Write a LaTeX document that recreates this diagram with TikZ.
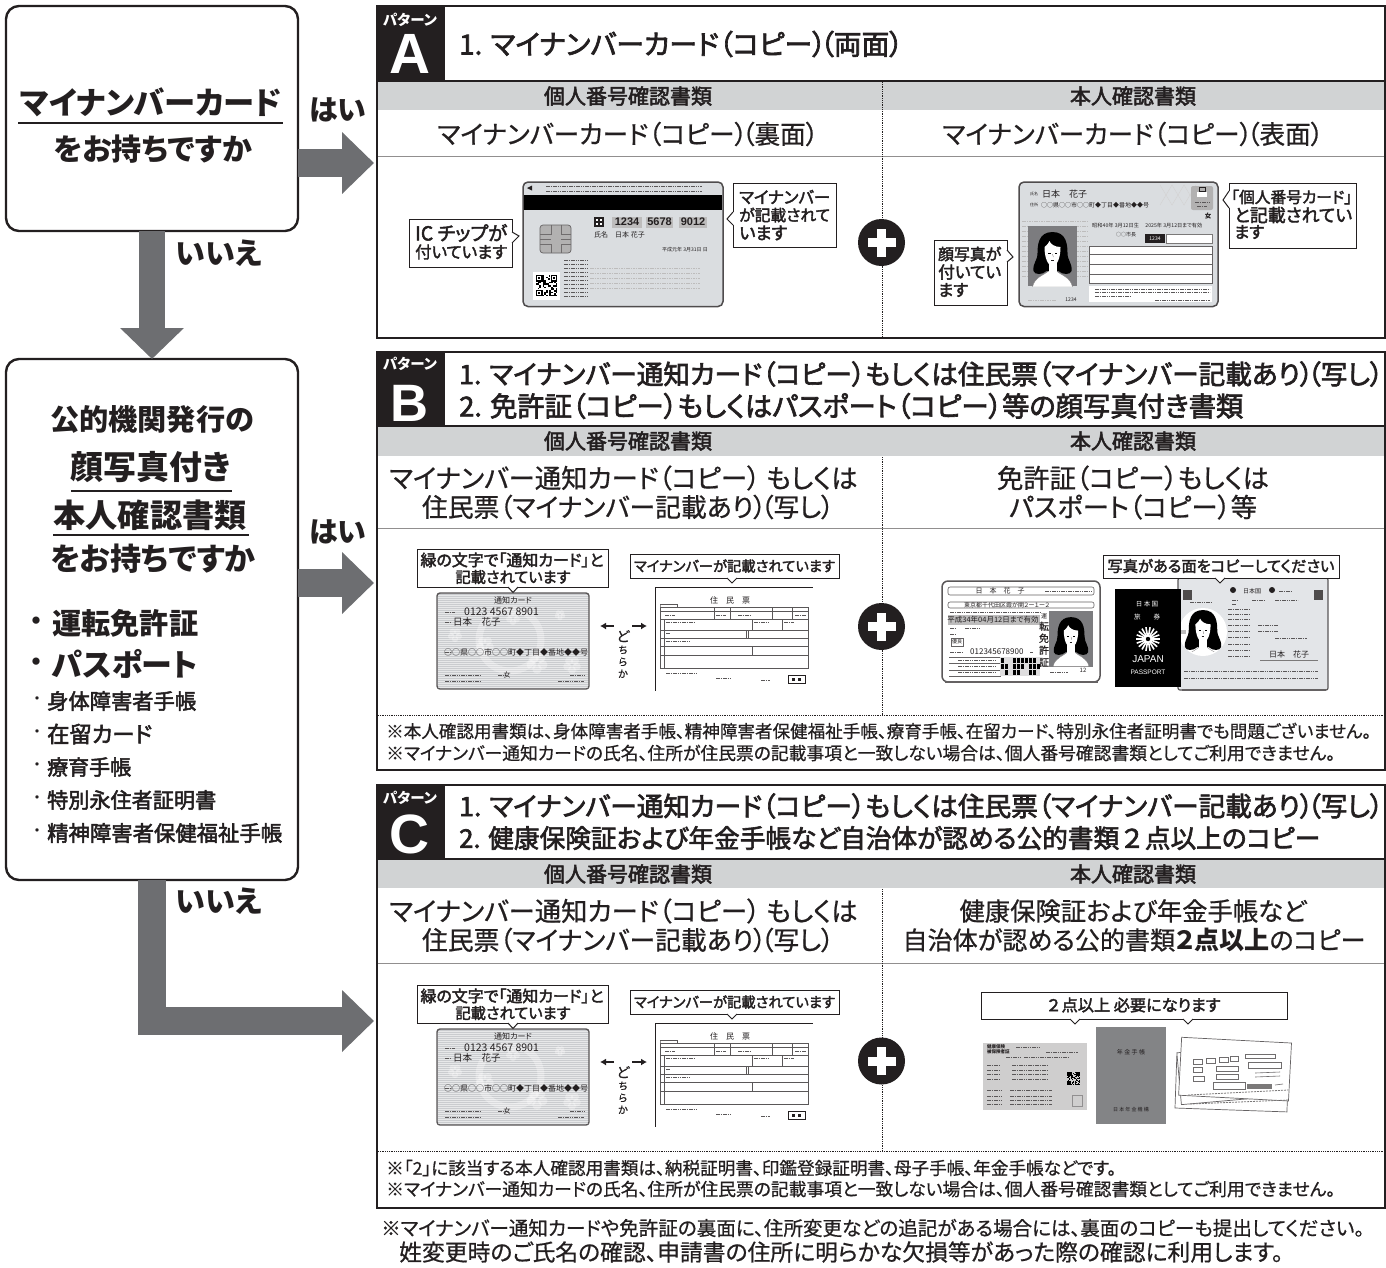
\documentclass[tikz,border=0pt]{standalone}
\usepackage{fontspec}
\usepackage{graphicx}
\usetikzlibrary{arrows.meta}
\setmainfont{Noto Sans CJK JP}[RawFeature=+palt,UprightFeatures={FakeBold=0.7}]
\newfontfamily\jpm{Noto Sans CJK JP}[RawFeature=+palt,FakeBold=2.4]
\newfontfamily\jpr{Noto Sans CJK JP}[FakeBold=2.4]
\newfontfamily\jpt{Noto Sans CJK JP}[RawFeature=+palt]
\newfontfamily\lat{Liberation Sans}
\definecolor{ink}{HTML}{231F20}
\definecolor{arrowgray}{HTML}{6D6E71}
\definecolor{band}{HTML}{D1D3D4}
\definecolor{cardg}{HTML}{DADDE0}
\newcounter{tn}
\newcommand\brk{\kern-.22em}
% text fitted to a width
\newcommand\txw[4][]{\stepcounter{tn}\node[txt,#1] (t\arabic{tn}) at (#2) {\resizebox{#3pt}{!}{\fontsize{20}{24}\selectfont #4}};}
% text at a size
\newcommand\txs[4][]{\stepcounter{tn}\node[txt,#1] (t\arabic{tn}) at (#2) {\fontsize{#3}{#3}\selectfont\jpt #4};}
% callout box x1 y1 x2 y2
\newcommand\callbox[5]{\node[callb,anchor=north west,minimum width=#4pt-#2pt,minimum height=#5pt-#3pt] (#1) at (#2,#3) {};}
\newcommand\ptr[3]{\draw[white,line width=1.8pt] (#1)--(#3);\draw[ink,line width=1pt,fill=white] (#1)--(#2)--(#3);}
\newcommand\dashes[3]{\draw[ink!75,line width=.8pt,dash pattern=on 1.6pt off .7pt] (#1,#3)--(#2,#3);}
\newcommand\faded[3]{\draw[ink!30,line width=.6pt,dash pattern=on 1.6pt off .8pt] (#1,#3)--(#2,#3);}
\newcommand\plusmark[2]{\stepcounter{tn}\node[circle,fill=ink,minimum size=47pt,inner sep=0pt] (p\arabic{tn}) at (#1,#2) {};
 \fill[white] (#1-14,#2-4.5) rectangle (#1+14,#2+4.5); \fill[white] (#1-4.5,#2-14) rectangle (#1+4.5,#2+14);}
\newcommand\petals[3]{\foreach \a in {18,90,...,306}{\fill[white,opacity=.3] (#1,#2)++(\a:#3) circle (#3*.8);}}
\newcommand\facepic[4][white]{\begin{scope}[shift={(#2,#3)},scale=#4]
 \fill[white,draw=ink!60,line width=.3pt] (-20,34) .. controls (-18,24) and (-8,22) .. (-4,18) -- (4,18) .. controls (8,22) and (18,24) .. (20,34) -- cycle;
 \fill[black] (0,-21) .. controls (-14,-21) and (-15,-8) .. (-15,0) .. controls (-15,8) and (-20,10) .. (-19,18) .. controls (-18,22) and (-10,22) .. (-6,18) -- (6,18) .. controls (10,22) and (18,22) .. (19,18) .. controls (20,10) and (15,8) .. (15,0) .. controls (15,-8) and (14,-21) .. (0,-21) -- cycle;
 \fill[white] (-4,10) rectangle (4,20);
 \fill[white] (-8,-6) .. controls (-8,6) and (-4,13) .. (0,13) .. controls (4,13) and (8,6) .. (8,-6) .. controls (2,-6) and (-2,-9) .. (-3,-12) .. controls (-5,-8) and (-7,-7) .. (-8,-6) -- cycle;
 \fill[black] (-4.5,-.5) rectangle (-2,.5); \fill[black] (2,-.5) rectangle (4.5,.5);
 \draw[ink,line width=.4pt] (-1.5,7)--(1.5,7); \draw[ink!70,line width=.3pt] (0,1)--(.8,4);
\end{scope}}
\newcommand\qrcode[3]{\begin{scope}[shift={(#1,#2)},scale=#3]
 \pgfmathsetseed{11}
 \foreach \i in {0,...,12}{\foreach \j in {0,...,12}{\pgfmathparse{rnd>0.5?1:0}\ifnum\pgfmathresult=1 \fill[black] (\i,\j) rectangle ++(1,1);\fi}}
 \foreach \a/\b in {0/0,9/0,0/9}{\fill[white] (\a-.3,\b-.3) rectangle ++(4.6,4.6);\fill[black] (\a,\b) rectangle ++(4,4);\fill[white] (\a+.8,\b+.8) rectangle ++(2.4,2.4);\fill[black] (\a+1.3,\b+1.3) rectangle ++(1.4,1.4);}
\end{scope}}
% notification card + resident record drawn at a vertical offset
\newcommand\choicegroup[1]{\begin{scope}[shift={(0,#1)}]
 \fill[cardg!82!gray,draw=ink!75,line width=1.4pt,rounded corners=3pt] (437,593) rectangle (589,689);
 \begin{scope}
  \clip (438,594) rectangle (588,688);
  \foreach \y in {595,597,...,688}{\draw[white,line width=.5pt,opacity=.55] (437,\y)--(589,\y);}
  \draw[white,opacity=.3,line width=7pt] (510,640) circle (31);
  \petals{485}{645}{5}\petals{537}{663}{6}\petals{513}{618}{4}\petals{572}{665}{5}\petals{455}{635}{4}\petals{560}{615}{3}
 \end{scope}
 \txs{513,600}{8}{通知カード}
 \txs[anchor=west]{464,612}{10.5}{0123  4567  8901}
 \txs[anchor=west]{453,622}{9.5}{日本　花子}
 \txs[anchor=west]{444,652}{8}{○○県○○市○○町◆丁目◆番地◆◆号}
 \dashes{445}{455}{612}\dashes{445}{451}{622}\dashes{445}{451}{652}
 \dashes{445}{480}{675}\dashes{445}{480}{681}\dashes{498}{505}{675}\dashes{570}{584}{675}\dashes{558}{584}{681}
 \txs{507,675}{7}{女}
 \draw[ink,line width=.9pt,fill=none] (655,587)--(813,587); \draw[ink,line width=.9pt] (655,587)--(655,691);
 \txs{730,600}{8}{住　民　票}
 \draw[ink!75,line width=.5pt] (660,604.5)--(677,604.5)--(677,607);
 \draw[ink!75,line width=.5pt] (660,604.5) rectangle (660,607);
 \draw[ink!75,line width=.5pt] (660,607) rectangle (808,668);
 \foreach \y in {611,619,630,638,646,655}{\draw[ink!75,line width=.5pt] (660,\y)--(808,\y);}
 \draw[ink!75,line width=.5pt] (714,607)--(714,619) (730,607)--(730,619) (772,607)--(772,619) (792,607)--(792,619) (664,619)--(664,668) (752,619)--(752,630) (782,619)--(782,630) (746,630)--(746,638) (748,630)--(748,638) (752,646)--(752,655);
 \dashes{665}{675}{615}\dashes{716}{726}{615}\dashes{738}{750}{615}\dashes{795}{806}{615}\dashes{666}{695}{622}\dashes{754}{770}{622}\dashes{784}{794}{622}\dashes{666}{670}{633}\dashes{666}{690}{641}
 \dashes{666}{697}{673}\dashes{716}{730}{678}\dashes{761}{770}{680}
 \draw[ink,line width=.6pt] (788,675) rectangle (805,683);
 \fill[ink] (791.5,677.5) rectangle (794.5,680.5);\fill[ink] (798,677.5) rectangle (801,680.5);
 \draw[-{Latex[length=6pt,width=7pt]},ink,line width=1.2pt] (614,626)--(600,626);
 \draw[-{Latex[length=6pt,width=7pt]},ink,line width=1.2pt] (632,626)--(647,626);
 \stepcounter{tn}\node[txt,align=center] (t\arabic{tn}) at (623,654) {\fontsize{14}{12.6}\selectfont ど\\ち\\ら\\か};
 \callbox{cg#1}{417}{549}{608}{587}
 \ptr{508,587}{513,592.5}{518,587}
 \txw{512,560}{183}{\jpm 緑の文字で「通知カード」と}
 \txw{513,577}{115}{\jpm 記載されています}
 \callbox{cj#1}{630}{554}{839}{578}
 \ptr{727,578}{732,583}{737,578}
 \txw{734.5,566}{201}{\jpm マイナンバーが記載されています}
\end{scope}}
\tikzset{
 txt/.style={inner sep=0pt,text=ink},
 bigbox/.style={draw=ink,line width=2.4pt,fill=white,rounded corners=13pt,anchor=north west,outer sep=0pt},
 panelbox/.style={draw=ink,line width=2.6pt,anchor=north west,fill=white,outer sep=0pt},
 callb/.style={draw=ink,line width=1pt,fill=white,inner sep=0pt,outer sep=0pt},
 bigarrow/.style={draw=arrowgray,line width=28pt,-{Triangle[length=32pt,width=60pt]},shorten >=3pt},
 downarrow/.style={draw=arrowgray,line width=26pt,-{Triangle[length=31pt,width=62pt]}},
 rowline/.style={draw=ink!50,line width=.7pt},
 divider/.style={draw=ink,line width=.8pt,densely dotted}
}
\begin{document}
\begin{tikzpicture}[x=1pt,y=-1pt]
\useasboundingbox (0,0) rectangle (1386,1267);
% panels
\node[panelbox,minimum width=1008pt,minimum height=332pt] (pa) at (377,6) {};
\node[panelbox,minimum width=1008pt,minimum height=418pt] (pb) at (377,352) {};
\node[panelbox,minimum width=1008pt,minimum height=423pt] (pc) at (377,785) {};
% side boxes
\node[bigbox,minimum width=292pt,minimum height=225pt] (q1) at (6,6) {};
\node[bigbox,minimum width=292pt,minimum height=521pt] (q2) at (6,359) {};
% connectors
\draw[bigarrow] (q1.east |- 0,163) -- (pa.west |- 0,163);
\draw[bigarrow] (q2.east |- 0,583) -- (pb.west |- 0,583);
\draw[downarrow] (q1.south -| 152,0) -- (q2.north -| 152,0);
\draw[bigarrow,line join=miter] (q2.south -| 152,0) -- (152,1021) -- (pc.west |- 0,1021);
% left texts
\txw{151,102}{262}{\bfseries マイナンバーカード}
\draw[ink,line width=1.6pt] (18,123)--(283,123);
\txw{153,149}{198}{\bfseries をお持ちですか}
\txw{338,110}{57}{\bfseries はい}
\txw{219,253}{86}{\bfseries いいえ}
\txw{338,532}{57}{\bfseries はい}
\txw{219,901}{86}{\bfseries いいえ}
\txw{152,419}{204}{\bfseries 公的機関発行の}
\txw{151,467}{160}{\bfseries 顔写真付き}
\draw[ink,line width=1.6pt] (71,491)--(232,491);
\txw{150,515}{193}{\bfseries 本人確認書類}
\draw[ink,line width=1.6pt] (53,535)--(249,535);
\txw{153,559}{205}{\bfseries をお持ちですか}
\txs{37,624}{26}{\bfseries ・}
\txw[anchor=west]{52,623}{146}{\bfseries 運転免許証}
\txs{37,665}{26}{\bfseries ・}
\txw[anchor=west]{52,664}{146}{\bfseries パスポート}
\foreach \yy/\ww/\tt in {701/149/身体障害者手帳,734/105/在留カード,767/84/療育手帳,800/169/特別永住者証明書,833/235/精神障害者保健福祉手帳}{
 \txs{37,\yy}{16}{・}
 \txw[anchor=west]{47,\yy}{\ww}{\jpm \tt}
}
% panel frames inner: A
\fill[ink] (377,6) rectangle (445,80);
\fill[band] (378,81) rectangle (1384,110);
\draw[ink,line width=2pt] (377,80.5)--(1385,80.5);
\draw[rowline] (378,156)--(1384,156);
\draw[divider] (882,82)--(882,337);
\txw{410,20}{54}{\textcolor{white}{\bfseries パターン}}
\txw{410,54}{41}{\textcolor{white}{\lat\bfseries A}}
\txw[anchor=west]{459,44}{444}{\jpm 1. マイナンバーカード（コピー）\brk（両面）}
\txw{628,96}{168}{\jpm 個人番号確認書類}
\txw{1133,96}{126}{\jpm 本人確認書類}
\txw{628,134}{381}{マイナンバーカード（コピー）\brk（裏面）}
\txw{1133,134}{381}{マイナンバーカード（コピー）\brk（表面）}
% card back
\fill[cardg,draw=ink!80,line width=1.5pt,rounded corners=5pt] (523,182) rectangle (723,306.5);
\fill[black] (524,195) rectangle (722,210);
\fill[ink] (527,188) -- (532,185.5) -- (532,190.5) -- cycle;
\dashes{546}{702}{186}\dashes{546}{702}{191}
\fill[ink!35,draw=ink!70,line width=.7pt,rounded corners=3pt] (540,225) rectangle (571,253);
\draw[ink!65,line width=.6pt] (540,234)--(551,234)--(551,225) (540,244)--(551,244)--(551,253) (571,234)--(561,234)--(561,225) (571,244)--(561,244)--(561,253) (540,239)--(551,239) (561,239)--(571,239);
\fill[ink] (594,217) rectangle (604,227);
\fill[white] (596,219) rectangle (598,221);\fill[white] (600,219) rectangle (602,221);\fill[white] (596,223) rectangle (598,225);\fill[white] (600,223) rectangle (602,225);
\fill[ink!30] (612,216.5) rectangle (642,227.5);\fill[ink!30] (646,216.5) rectangle (673,227.5);\fill[ink!30] (679,216.5) rectangle (707,227.5);
\txs{627,222}{11}{\lat\bfseries 1234}
\txs{659.5,222}{11}{\lat\bfseries 5678}
\txs{693,222}{11}{\lat\bfseries 9012}
\txs[anchor=west]{594,235}{7}{氏名　日本 花子}
\txs[anchor=west]{662,250}{5}{平成元年 3月31日 日}
\fill[white] (533,272) rectangle (560,300);
\qrcode{536}{275}{1.65}
\foreach \y in {260,264,...,296}{\dashes{564}{588}{\y}}
\foreach \y in {268,273,...,288}{\faded{590}{700}{\y}}
\callbox{ca1}{409}{219}{512}{267}
\ptr{512,232}{519,236}{512,243}
\txw[anchor=west]{415,233}{92}{\jpm IC チップが}
\txw[anchor=west]{415,252}{92}{\jpm 付いています}
\callbox{ca2}{733}{183}{836}{247}
\ptr{733,212}{727,219}{733,225}
\txw[anchor=west]{739,197}{91}{\jpm マイナンバー}
\txw[anchor=west]{739,215}{91}{\jpm が記載されて}
\txw[anchor=west]{739,233}{48}{\jpm います}
\plusmark{881.5}{242.5}
% card front
\fill[cardg,draw=ink!80,line width=1.5pt,rounded corners=5pt] (1019,182) rectangle (1218,306.5);
\foreach \y in {221,226,...,276}{\faded{1022}{1089}{\y}}
\foreach \x in {1160,1172,1184}{\draw[ink!20,line width=.4pt] (\x,185)--(\x+12,205) (\x+12,185)--(\x,205);}
\fill[arrowgray!90] (1028,226) rectangle (1077,286);
\begin{scope}\clip (1028,226) rectangle (1077,286);\facepic{1052.5}{253}{1}\end{scope}
\txs[anchor=west]{1042,194}{9}{日本　花子}
\txs[anchor=west]{1030,194}{4}{氏名}
\txs[anchor=west]{1030,205}{4}{住所}
\txs[anchor=west]{1041,205}{6}{○○県○○市○○町◆丁目◆番地◆◆号}
\fill[ink!35,rounded corners=2pt] (1191,186) rectangle (1213,210);
\fill[white] (1197,192) rectangle (1207,197);\draw[ink,line width=.4pt] (1199,187) rectangle (1205,191);
\dashes{1195}{1209}{202}\dashes{1197}{1207}{206}
\txs{1208,216}{6.5}{\bfseries 女}
\txs[anchor=west]{1092,226}{5.2}{昭和40年  3月12日生　 2025年  3月12日まで有効}
\txs[anchor=west]{1116,234.5}{5}{○○市長}
\fill[ink] (1145,234) rectangle (1165,243);
\fill[white,draw=ink!60,line width=.3pt] (1166,234) rectangle (1212,243);
\txs{1155,238.5}{5}{\textcolor{white}{1234}}
\draw[ink!70,fill=white,line width=.5pt] (1089,246) rectangle (1212,283);
\draw[ink!70,line width=.5pt] (1089,254)--(1212,254) (1089,264)--(1212,264) (1089,274)--(1212,274);
\fill[white] (1089,286) rectangle (1212,302);
\dashes{1095}{1210}{289}\dashes{1095}{1210}{292}\dashes{1095}{1130}{296}
\faded{1028}{1056}{300}\txs{1071,300}{5}{1234}
\dashes{1155}{1210}{300}
\callbox{ca3}{934}{240}{1007}{305}
\ptr{1007,250}{1013,257}{1007,262}
\txw[anchor=west]{938,254}{63}{\jpm 顔写真が}
\txw[anchor=west]{938,272}{63}{\jpm 付いてい}
\txw[anchor=west]{938,290}{30}{\jpm ます}
\callbox{ca4}{1229}{183}{1356}{248}
\ptr{1229,191}{1223,200}{1229,208}
\txw[anchor=west]{1231,197}{121}{\jpm 「個人番号カード」}
\txw[anchor=west]{1234,215}{118}{\jpm と記載されてい}
\txw[anchor=west]{1234,232}{30}{\jpm ます}
% B
\fill[ink] (377,352) rectangle (445,425);
\fill[band] (378,427) rectangle (1384,456);
\draw[ink,line width=2pt] (377,426)--(1385,426);
\draw[rowline] (378,528)--(1384,528);
\draw[divider] (882,457)--(882,715);
\draw[divider] (378,715)--(1384,715);
\txw{410,364}{54}{\textcolor{white}{\bfseries パターン}}
\txw{409,403}{38}{\textcolor{white}{\lat\bfseries B}}
\txw[anchor=west]{459,374}{924}{\jpm 1. マイナンバー通知カード（コピー）もしくは住民票（マイナンバー記載あり）\brk（写し）}
\txw[anchor=west]{459,406}{784}{\jpm 2. 免許証（コピー）もしくはパスポート（コピー）等の顔写真付き書類}
\txw{628,441}{168}{\jpm 個人番号確認書類}
\txw{1133,441}{126}{\jpm 本人確認書類}
\txw{623.5,478}{468}{マイナンバー通知カード（コピー） もしくは}
\txw{628,507}{412}{住民票（マイナンバー記載あり）\brk（写し）}
\txw{1133,478}{272}{免許証（コピー）もしくは}
\txw{1133,507}{248}{パスポート（コピー）等}
\choicegroup{0}
\plusmark{881.5}{626.5}
% licence
\fill[white,draw=ink!75,line width=1.5pt,rounded corners=6pt] (942,581) rectangle (1100,682);
\fill[ink!70] (945,681)--(1098,681)--(1098,683)--(945,683)--cycle;
\draw[ink!70,line width=.6pt,rounded corners=2pt] (948,587) rectangle (1094,595);
\txs{1000,591}{7}{日　本　花　子}
\dashes{1045}{1092}{591}
\draw[ink!70,line width=.6pt,rounded corners=2pt] (948,602) rectangle (1094,608);
\txs[anchor=west]{964,605}{6}{東京都千代田区霞が関２ー１ー２}
\fill[ink!30] (948,615) rectangle (1040,625);
\txs{993,620}{7.5}{平成34年04月12日まで有効}
\dashes{950}{1040}{612}
\fill[arrowgray!90] (1049,611) rectangle (1093,667);
\begin{scope}\clip (1049,611) rectangle (1093,667);\facepic{1071}{636}{.9}\end{scope}
\fill[white] (1049,667) rectangle (1093,672);
\draw[ink!70,line width=.5pt] (951,638) rectangle (963,646);
\txs{957,642}{5}{優良}
\dashes{950}{956}{628}\dashes{965}{980}{628}\dashes{950}{956}{634}
\txs[anchor=west]{970,652}{8}{012345678900}
\dashes{950}{962}{652}\dashes{1030}{1033}{652}
\stepcounter{tn}\node[txt,align=center] (t\arabic{tn}) at (1044,640) {\fontsize{6}{7.4}\selectfont\jpt 運\\転\\免\\許\\証};
\draw[ink!70,line width=.5pt] (949,657)--(1000,657)--(1000,676)--(949,676) (949,663)--(1000,663) (949,670)--(1000,670);
\foreach \y in {660,666,672}{\dashes{958}{996}{\y}}
\fill[ink!15] (1000,657) rectangle (1040,676);
\begin{scope}\pgfmathsetseed{5}
\foreach \i in {0,...,9}{\foreach \j in {0,1,2}{\pgfmathparse{rnd>0.35?1:0}\ifnum\pgfmathresult=1 \fill[black] (1001+\i*4,658+\j*6) rectangle ++(3,5);\fi}}
\end{scope}
\dashes{1050}{1068}{672}\txs{1083,670}{6}{12}
% passport
\fill[cardg!75,draw=ink!75,line width=1.2pt,rounded corners=2pt] (1178,578) rectangle (1328,690);
\fill[ink!70] (1182,688.5) rectangle (1326,690.5);
\fill[ink!80] (1183,590) rectangle (1192,600); \fill[ink!80] (1314,590) rectangle (1323,600);
\fill[ink] (1233,590) circle (3); \fill[ink] (1272,590) circle (3);
\txs{1252,591}{6}{日本国}
\dashes{1279}{1292}{591}\dashes{1232}{1238}{600}\dashes{1252}{1264}{600}\dashes{1275}{1298}{600}\dashes{1190}{1212}{602}\dashes{1232}{1236}{604}
\fill[white] (1203,632) circle (24);
\fill[ink!30] (1181,630) rectangle (1186,634);
\begin{scope}\clip (1182,605) rectangle (1226,651);\facepic{1203}{630}{.95}\end{scope}
\foreach \y in {609,614,619,625,631,637,644,650,656}{\dashes{1228}{1250}{\y}}
\dashes{1258}{1278}{625}\dashes{1258}{1278}{631}\dashes{1275}{1307}{638}
\txs{1289,654}{8}{日本　花子}
\draw[ink!60,line width=.4pt] (1260,660)--(1318,660);
\dashes{1184}{1318}{671}\dashes{1184}{1318}{678}
\callbox{cp1}{1103}{555}{1339}{578}
\ptr{1215,578}{1220,583}{1225,578}
\txw{1221,566}{227}{\jpm 写真がある面をコピーしてください}
\fill[black] (1115,589) rectangle (1181,687);
\txs{1147,604}{6.5}{\textcolor{white!70}{日 本 国}}
\txs{1147,617}{6.5}{\textcolor{white!70}{旅　　券}}
\foreach \a in {0,20,...,340}{\draw[white!65,line width=1.6pt] (1148,639)--++(\a:12);}
\fill[black] (1148,639) circle (2.2);
\txs{1148,659}{10}{\textcolor{white!70}{\lat JAPAN}}
\txs{1148,672}{6.5}{\textcolor{white!70}{\lat PASSPORT}}
\txw[anchor=west]{386,731}{985}{※本人確認用書類は、身体障害者手帳、精神障害者保健福祉手帳、療育手帳、在留カード、特別永住者証明書でも問題ございません。}
\txw[anchor=west]{386,753}{949}{※マイナンバー通知カードの氏名、住所が住民票の記載事項と一致しない場合は、個人番号確認書類としてご利用できません。}
% C
\fill[ink] (377,785) rectangle (445,858);
\fill[band] (378,860) rectangle (1384,888);
\draw[ink,line width=2pt] (377,859)--(1385,859);
\draw[rowline] (378,963)--(1384,963);
\draw[divider] (882,889)--(882,1151);
\draw[divider] (378,1151)--(1384,1151);
\txw{410,798}{54}{\textcolor{white}{\bfseries パターン}}
\txw{409,834}{40}{\textcolor{white}{\lat\bfseries C}}
\txw[anchor=west]{459,806}{924}{\jpm 1. マイナンバー通知カード（コピー）もしくは住民票（マイナンバー記載あり）\brk（写し）}
\txw[anchor=west]{459,838}{861}{\jpm 2. 健康保険証および年金手帳など自治体が認める公的書類{\jpr ２}点以上のコピー}
\txw{628,874}{168}{\jpm 個人番号確認書類}
\txw{1133,874}{126}{\jpm 本人確認書類}
\txw{623.5,911}{468}{マイナンバー通知カード（コピー） もしくは}
\txw{628,940}{412}{住民票（マイナンバー記載あり）\brk（写し）}
\txw{1133,911}{347}{健康保険証および年金手帳など}
\txw{1134,940}{463}{自治体が認める公的書類{\bfseries ２点以上}のコピー}
\choicegroup{436}
\plusmark{881.5}{1061}
\callbox{cr1}{981}{992}{1287}{1019}
\ptr{1070,1019}{1075,1024}{1080,1019}
\ptr{1183,1019}{1188,1024}{1193,1019}
\txw{1133,1005}{175}{\jpm {\jpr ２}点以上 必要になります}
% insurance card
\fill[ink!22] (983,1043) rectangle (1087,1110);
\txs[anchor=west]{987,1047}{4.5}{\bfseries 健康保険}
\txs[anchor=west]{987,1052}{4.5}{\bfseries 被保険者証}
\dashes{1016}{1040}{1047}\dashes{1046}{1078}{1052}\dashes{1006}{1020}{1057}\dashes{1024}{1068}{1057}
\foreach \y in {1065,1070,1074,1079}{\dashes{987}{1000}{\y}\dashes{1012}{1048}{\y}}
\qrcode{1067}{1072}{1}
\foreach \y in {1090,1096,1100,1104}{\dashes{987}{1003}{\y}\dashes{1010}{1052}{\y}}
\draw[ink!50,line width=.5pt] (1072,1095) rectangle (1082,1106);
% pension book
\fill[arrowgray!85] (1096,1027) rectangle (1166,1124);
\txs{1131,1052}{6}{年 金 手 帳}
\txs{1131,1110}{5}{日 本 年 金 機 構}
% papers
\begin{scope}[ink!70,line width=.7pt,fill=white]
 \filldraw[rotate around={-2:(1233,1080)}] (1176,1058) rectangle (1288,1110);
 \filldraw[rotate around={5:(1233,1075)}] (1179,1048) rectangle (1285,1100);
 \filldraw[rotate around={-3:(1233,1070)}] (1180,1040) rectangle (1290,1098);
\end{scope}
\draw[ink!60,line width=.8pt,dash pattern=on 2pt off 1pt] (1190,1104)--(1288,1100);
\draw[ink!60,line width=.8pt,dash pattern=on 2pt off 1pt] (1188,1095)--(1288,1090);
\foreach \x/\y/\w in {1193/1059/9,1206/1058/9,1219/1057/9,1230/1056/8,1193/1067/9,1216/1066/22,1193/1076/11,1216/1074/22}{\draw[ink!65,line width=.6pt] (\x,\y) rectangle ++(\w,5);}
\draw[ink!65,line width=.6pt] (1245,1054) rectangle ++(30,4);
\draw[ink!65,line width=.6pt] (1248,1062) rectangle ++(33,6);
\draw[ink!65,line width=.6pt] (1213,1082) rectangle ++(32,7);
\fill[ink!60] (1247,1084) rectangle (1272,1089);
\draw[ink!65,line width=.6pt] (1255,1073)--(1280,1072) (1255,1077)--(1280,1076) (1275,1085)--(1283,1084);
\txw[anchor=west]{386,1168}{730}{※「2」に該当する本人確認用書類は、納税証明書、印鑑登録証明書、母子手帳、年金手帳などです。}
\txw[anchor=west]{386,1189}{949}{※マイナンバー通知カードの氏名、住所が住民票の記載事項と一致しない場合は、個人番号確認書類としてご利用できません。}
\txw[anchor=west]{381,1228}{983}{※マイナンバー通知カードや免許証の裏面に、住所変更などの追記がある場合には、裏面のコピーも提出してください。}
\txw[anchor=west]{399,1252}{884}{姓変更時のご氏名の確認、申請書の住所に明らかな欠損等があった際の確認に利用します。}
\end{tikzpicture}
\end{document}
